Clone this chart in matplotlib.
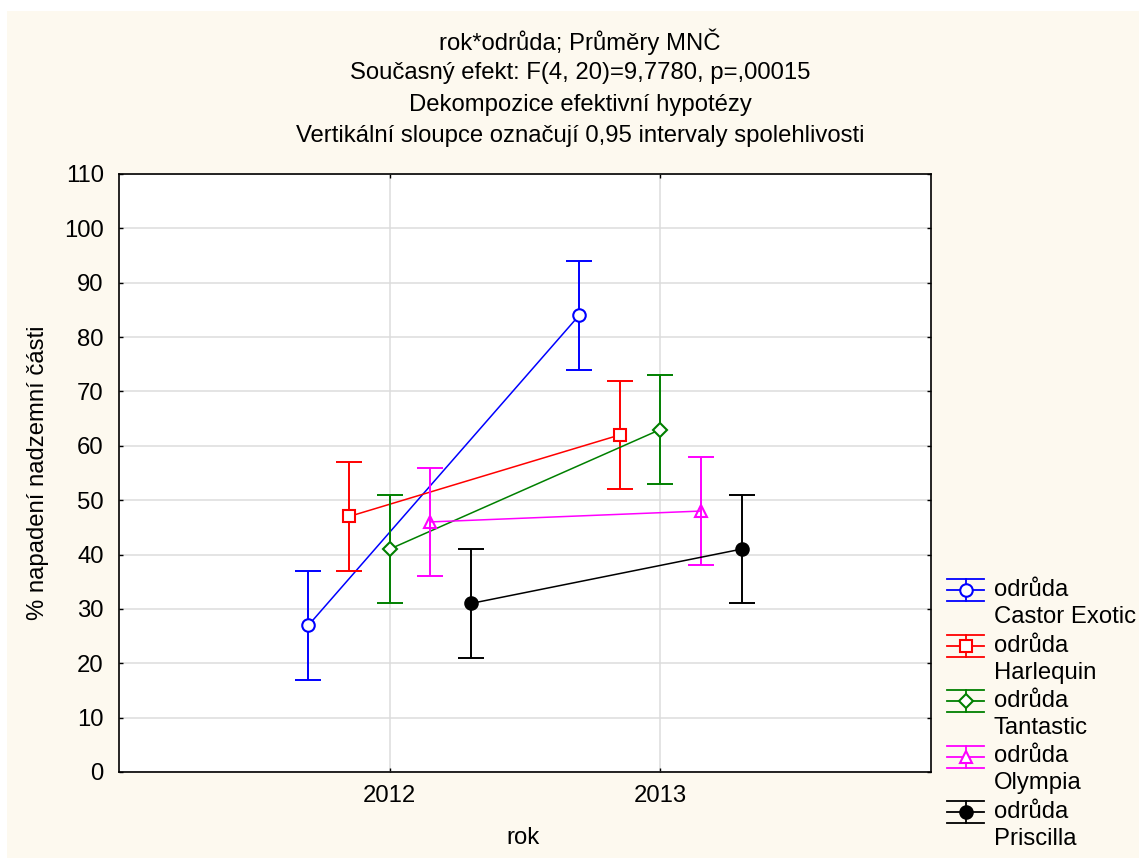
import matplotlib
matplotlib.use("Agg")
import matplotlib.pyplot as plt
from matplotlib.lines import Line2D
from matplotlib.patches import Rectangle
import numpy as np

plt.rcParams['font.family'] = ['Liberation Sans', 'DejaVu Sans']

# ---- data ----
years = ["2012", "2013"]
varieties = ["Castor Exotic", "Harlequin", "Tantastic", "Olympia", "Priscilla"]
means_castor = [27, 84]
means_harlequin = [47, 62]
means_tantastic = [41, 63]
means_olympia = [46, 48]
means_priscilla = [31, 41]
ci_castor = [10, 10]
ci_harlequin = [10, 10]
ci_tantastic = [10, 10]
ci_olympia = [10, 10]
ci_priscilla = [10, 10]
means = [means_castor, means_harlequin, means_tantastic, means_olympia, means_priscilla]
cis = [ci_castor, ci_harlequin, ci_tantastic, ci_olympia, ci_priscilla]

title_lines = ["rok*odrůda; Průměry MNČ",
               "Současný efekt: F(4, 20)=9,7780, p=,00015",
               "Dekompozice efektivní hypotézy",
               "Vertikální sloupce označují 0,95 intervaly spolehlivosti"]

colors = ["#0000ff", "#ff0000", "#008000", "#ff00ff", "#000000"]
markers = ["o", "s", "D", "^", "o"]
msizes = [9, 9, 7.5, 8.5, 9]
faces = ["white", "white", "white", "none", "#000000"]
offsets = [-0.3, -0.15, 0.0, 0.15, 0.3]

W, H = 1139, 858
fig = plt.figure(figsize=(W / 100, H / 100), dpi=100, facecolor="white")
def fx(px): return px / W
def fy(py): return 1 - py / H

fig.patches.append(Rectangle((fx(7), 0), 1, fy(11), transform=fig.transFigure,
                             facecolor="#fdf9ef", edgecolor="none", zorder=-10))

ax = fig.add_axes([fx(119), fy(772), fx(931) - fx(119), fy(174) - fy(772)])
ax.set_facecolor("white")

xpos = np.arange(len(years))
for i in range(len(varieties)):
    x = xpos + offsets[i]
    ax.plot(x, means[i], color=colors[i], lw=1.1, zorder=3 + i)
    ax.errorbar(x, means[i], yerr=cis[i], fmt="none", ecolor=colors[i],
                elinewidth=1.4, capsize=9.7, capthick=1.4, zorder=3 + i)
    ax.plot(x, means[i], linestyle="none", marker=markers[i], ms=msizes[i],
            mfc=faces[i], mec=colors[i], mew=1.5, zorder=4 + i)

ax.set_xlim(-1, 2)
ax.set_ylim(0, 110)
ax.set_xticks(xpos)
ax.set_xticklabels(years)
ax.set_yticks(np.arange(0, 111, 10))
ax.grid(True, color="#dcdcdc", lw=1.1, zorder=0)
ax.set_axisbelow(True)
ax.tick_params(direction="in", length=3, width=1, top=True, right=True,
               labelsize=17.2, colors="black")
ax.tick_params(axis="y", pad=11)
ax.tick_params(axis="x", pad=9)
for s in ax.spines.values():
    s.set_linewidth(1.2)
    s.set_color("black")

ax.set_xlabel("rok", fontsize=17.2)
ax.xaxis.set_label_coords((523 - 119) / 812, -(838 - 772) / 598)
ax.xaxis.label.set_va("center")
ax.set_ylabel("% napadení nadzemní části", fontsize=17.2)
ax.yaxis.set_label_coords((38 - 119) / 812, (772 - 473) / 598)
ax.yaxis.label.set_va("center")

for yy, t in zip([42, 73, 105, 136], title_lines):
    fig.text(fx(580), fy(yy), t, ha="center", va="center", fontsize=17.2)

# ---- legend (manual) ----
for i, name in enumerate(varieties):
    y0 = 590 + i * 55.5
    c = colors[i]
    for yy in (y0 - 11, y0, y0 + 11):
        fig.add_artist(Line2D([fx(947), fx(984)], [fy(yy), fy(yy)],
                              transform=fig.transFigure, color=c, lw=1.3))
    fig.add_artist(Line2D([fx(965.5), fx(965.5)], [fy(y0 - 11), fy(y0 + 11)],
                          transform=fig.transFigure, color=c, lw=1.3))
    fig.add_artist(Line2D([fx(965.5)], [fy(y0)], transform=fig.transFigure,
                          marker=markers[i], ms=msizes[i], mfc=faces[i] if faces[i] != "none" else "white",
                          mec=c, mew=1.5, linestyle="none"))
    fig.text(fx(994), fy(y0), "odrůda", ha="left", va="center", fontsize=17.2)
    fig.text(fx(994), fy(y0 + 27), name, ha="left", va="center", fontsize=17.2)

fig.savefig("out.png", dpi=100, facecolor=fig.get_facecolor())
